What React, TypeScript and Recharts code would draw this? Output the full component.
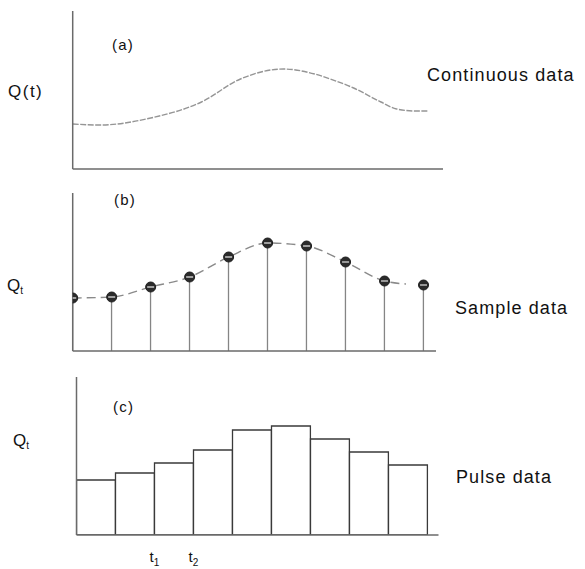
import React from 'react';
import { LineChart, ComposedChart, Line, Bar, Scatter, XAxis, YAxis } from 'recharts';

// (a) continuous record Q(t): time in sampling intervals, Q in plot units
const curveTimes = [0, 0.7, 2.0, 3.3, 4.3, 5.4, 6.2, 6.6, 7.2, 7.9, 8.3, 8.8, 9.1];
const curveQ = [45, 44, 51, 67, 90, 100, 95, 90, 81, 67, 60, 58, 58];

// (b) sampled values Q_t at t = 0..9 and the dashed trace through them
const sampleTimes = [0, 1, 2, 3, 4, 5, 6, 7, 8, 9];
const sampleQ = [53, 54, 64, 74, 94, 108, 105, 89, 70, 66];
const traceTimes = [0, 1, 2, 3, 4, 5, 6, 7, 8, 8.55];
const traceQ = [53, 54, 64, 74, 94, 108, 105, 89, 70, 67];

// (c) pulse values, one per interval [t, t+1)
const pulseStart = [0, 1, 2, 3, 4, 5, 6, 7, 8];
const pulseQ = [55, 62, 72, 85, 105, 109, 96, 83, 70];

// time ticks labelled under the pulse panel
const timeTicks = [2, 3];
const timeTickSubs = ['1', '2'];

const curveData = curveTimes.map((t, i) => ({ t, q: curveQ[i] }));
const sampleData = sampleTimes.map((t, i) => ({ t, q: sampleQ[i] }));
const traceData = traceTimes.map((t, i) => ({ t, q: traceQ[i] }));
// each pulse is placed at the middle of its interval
const pulseData = pulseStart.map((t, i) => ({ tm: t + 0.5, q: pulseQ[i] }));

const FONT = '"Liberation Sans", Arial, sans-serif';
const AXIS = { stroke: '#6a6a6a', strokeWidth: 1.5 };
const Q_DOMAIN: [number, number] = [0, 158];

const SampleDot = (props: any) => {
  const { cx, cy } = props;
  if (cx == null || cy == null) return null;
  return (
    <g>
      <circle cx={cx} cy={cy} r={5} fill="#2b2b2b" stroke="#1e1e1e" strokeWidth={1} />
      <line x1={cx - 3.5} y1={cy} x2={cx + 3.5} y2={cy} stroke="#c8c8c8" strokeWidth={1.4} />
    </g>
  );
};

const TimeTick = (props: any) => {
  const { x, y, payload } = props;
  const idx = timeTicks.indexOf(payload.value);
  return (
    <text x={x - 5} y={y + 27} fontFamily={FONT} fontSize={15} fill="#111" textAnchor="start">
      t
      <tspan dy={4} fontSize={10}>
        {timeTickSubs[idx]}
      </tspan>
    </text>
  );
};

const labelStyle = { fontFamily: FONT, fill: '#111' } as const;

export default function App() {
  return (
    <div
      style={{
        position: 'absolute',
        left: 0,
        top: 0,
        width: 585,
        height: 569,
        background: '#ffffff',
        overflow: 'hidden',
      }}
    >
      {/* (a) continuous data */}
      <div style={{ position: 'absolute', left: 0, top: 0 }}>
        <LineChart width={585} height={180} data={curveData} margin={{ top: 11, right: 142, bottom: 10, left: 71.7 }}>
          <XAxis
            type="number"
            dataKey="t"
            domain={[0, 9.49]}
            allowDataOverflow
            tick={false}
            tickLine={false}
            height={1}
            axisLine={AXIS}
          />
          <YAxis
            type="number"
            dataKey="q"
            domain={Q_DOMAIN}
            allowDataOverflow
            tick={false}
            tickLine={false}
            width={1}
            axisLine={AXIS}
          />
          <Line
            type="monotone"
            dataKey="q"
            stroke="#959595"
            strokeWidth={1.4}
            strokeDasharray="6 1.5"
            dot={false}
            isAnimationActive={false}
          />
        </LineChart>
      </div>

      {/* (b) sample data */}
      <div style={{ position: 'absolute', left: 0, top: 180 }}>
        <ComposedChart width={585} height={180} data={sampleData} margin={{ top: 13, right: 149, bottom: 8, left: 71.7 }}>
          <XAxis
            type="number"
            dataKey="t"
            domain={[0, 9.32]}
            allowDataOverflow
            tick={false}
            tickLine={false}
            height={1}
            axisLine={AXIS}
          />
          <YAxis
            type="number"
            dataKey="q"
            domain={Q_DOMAIN}
            allowDataOverflow
            tick={false}
            tickLine={false}
            width={1}
            axisLine={AXIS}
          />
          <Bar dataKey="q" barSize={1.3} fill="#858585" isAnimationActive={false} />
          <Line
            data={traceData}
            type="monotone"
            dataKey="q"
            stroke="#8a8a8a"
            strokeWidth={1.4}
            strokeDasharray="9 5"
            dot={false}
            isAnimationActive={false}
          />
          <Scatter dataKey="q" shape={SampleDot} isAnimationActive={false} />
        </ComposedChart>
      </div>

      {/* (c) pulse data */}
      <div style={{ position: 'absolute', left: 0, top: 360 }}>
        <ComposedChart width={585} height={209} data={pulseData} margin={{ top: 17, right: 146.5, bottom: 4, left: 75.5 }}>
          <XAxis
            type="number"
            dataKey="tm"
            domain={[0, 9.28205]}
            allowDataOverflow
            ticks={timeTicks}
            tick={<TimeTick />}
            tickLine={false}
            tickSize={0}
            tickMargin={0}
            axisLine={AXIS}
            height={30}
          />
          <YAxis
            type="number"
            dataKey="q"
            domain={Q_DOMAIN}
            allowDataOverflow
            tick={false}
            tickLine={false}
            width={1}
            axisLine={AXIS}
          />
          <Bar dataKey="q" barSize={38.9} fill="#ffffff" stroke="#3a3a3a" strokeWidth={1.3} isAnimationActive={false} />
        </ComposedChart>
      </div>

      {/* panel captions and axis titles */}
      <svg
        width={585}
        height={569}
        style={{ position: 'absolute', left: 0, top: 0, pointerEvents: 'none' }}
      >
        <text x={112} y={50} fontSize={15} letterSpacing={1.2} {...labelStyle}>(a)</text>
        <text x={114} y={205} fontSize={15} letterSpacing={1.2} {...labelStyle}>(b)</text>
        <text x={113} y={412} fontSize={15} letterSpacing={1.2} {...labelStyle}>(c)</text>

        <text x={8} y={97} fontSize={17} letterSpacing={1.5} {...labelStyle}>Q(t)</text>
        <text x={7} y={291} fontSize={17} {...labelStyle}>
          Q<tspan dy={3} fontSize={10}>t</tspan>
        </text>
        <text x={13} y={446} fontSize={17} {...labelStyle}>
          Q<tspan dy={3} fontSize={10}>t</tspan>
        </text>

        <text x={427} y={81} fontSize={18} letterSpacing={1.1} {...labelStyle}>Continuous data</text>
        <text x={455} y={314} fontSize={18} letterSpacing={1.1} {...labelStyle}>Sample data</text>
        <text x={456} y={483} fontSize={18} letterSpacing={1.1} {...labelStyle}>Pulse data</text>
      </svg>
    </div>
  );
}
